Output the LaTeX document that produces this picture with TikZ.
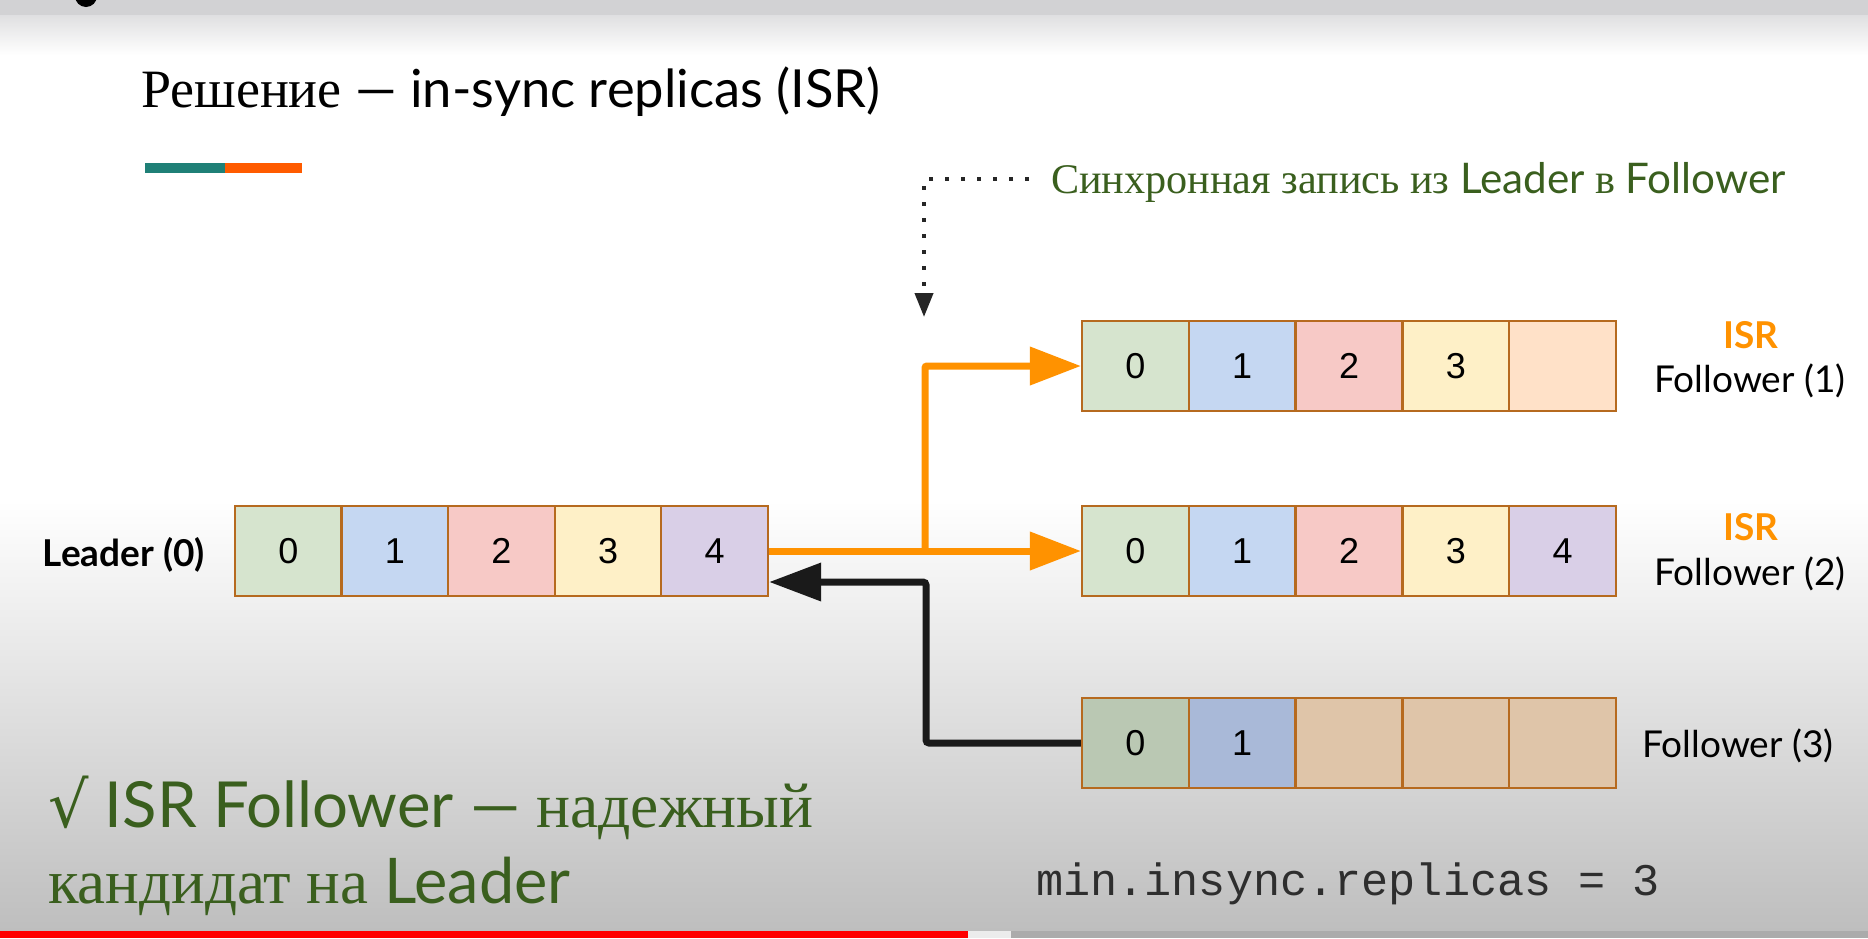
\documentclass[tikz,border=0pt]{standalone}
\usepackage{fontspec}
\setmainfont{Liberation Serif}
\newfontfamily\latoN{Lato}
\newfontfamily\arialN{Liberation Sans}
\newfontfamily\monoN{Liberation Mono}
\newfontfamily\symN{DejaVu Sans}
\usetikzlibrary{arrows.meta}

\definecolor{cellA}{HTML}{D6E4CE}
\definecolor{cellB}{HTML}{C5D7F2}
\definecolor{cellC}{HTML}{F7C9C6}
\definecolor{cellD}{HTML}{FEF0C7}
\definecolor{cellE}{HTML}{D9CFE7}
\definecolor{cellP}{HTML}{FFE1C8}
\definecolor{fadeA}{HTML}{BAC8B3}
\definecolor{fadeB}{HTML}{A9B9D8}
\definecolor{fadeT}{HTML}{DFC5A9}
\definecolor{cellline}{HTML}{B66A1F}
\definecolor{flow}{HTML}{FF9200}
\definecolor{backink}{HTML}{1A1A1A}
\definecolor{note}{HTML}{3A5F1E}
\definecolor{tealbar}{HTML}{1F8077}
\definecolor{orangebar}{HTML}{FF5B00}
\definecolor{band}{HTML}{D2D2D4}
\definecolor{floor}{HTML}{BEBEBE}
\definecolor{codeink}{HTML}{2E2E2E}

\tikzset{
  cell/.style={draw=cellline, line width=2.2pt, minimum width=106.7pt,
    minimum height=90pt, inner sep=0pt, text=black,
    font=\arialN\fontsize{36}{40}\selectfont},
  flowline/.style={draw=flow, line width=7pt, rounded corners=2pt,
    -{Triangle[length=51pt,width=37pt]}},
  backline/.style={draw=backink, line width=7pt, rounded corners=3pt,
    -{Triangle[length=52pt,width=37pt]}},
  syncline/.style={draw=black!85, line width=4pt, dash pattern=on 4pt off 12pt,
    -{Triangle[length=24pt,width=18pt]}},
  rowname/.style={anchor=base, inner sep=0pt, font=\latoN\fontsize{37}{42}\selectfont},
  isrtag/.style={anchor=base, inner sep=0pt, text=flow, font=\latoN\bfseries\fontsize{37}{42}\selectfont},
  plain/.style={anchor=base west, inner sep=0pt}
}

\begin{document}
\begin{tikzpicture}[x=1pt, y=-1pt]
  % page, shaded band at the top and dimmed lower half
  \useasboundingbox (0,0) rectangle (1868,938);
  \begin{scope}
    \clip (0,0) rectangle (1868,938);
    \fill[white] (0,0) rectangle (1868,938);
    \fill[band] (0,0) rectangle (1868,15);
    \shade[top color=band!70, bottom color=white] (0,15) rectangle (1868,55);
    \shade[top color=white, bottom color=floor] (0,500) rectangle (1868,931);
    \fill[black] (86,-4) circle (11);
    % progress bar
    \fill[red] (0,931) rectangle (968,938);
    \fill[white!85!gray] (968,931) rectangle (1011,938);
    \fill[floor!90!black] (1011,931) rectangle (1868,938);
  \end{scope}

  % heading and accent bar
  \node[plain, font=\fontsize{54}{60}\selectfont] (title) at (141,107)
    {Решение {\latoN\fontsize{52.5}{60}\selectfont — in-sync replicas (ISR)}};
  \fill[tealbar] (145,163) rectangle (225,173);
  \fill[orangebar] (225,163) rectangle (302,173);

  % leader log
  \foreach \c/\t [count=\i from 0] in {cellA/0,cellB/1,cellC/2,cellD/3,cellE/4}
    \node[cell, fill=\c] (L\i) at (288.3+106.6*\i, 551) {\t};
  \node[anchor=base east, inner sep=0pt, font=\latoN\bfseries\fontsize{37}{42}\selectfont]
    (leadname) at (205,566) {Leader (0)};

  % follower logs
  \foreach \c/\t [count=\i from 0] in {cellA/0,cellB/1,cellC/2,cellD/3,cellP/{}}
    \node[cell, fill=\c] (A\i) at (1135.4+106.8*\i, 366) {\t};
  \foreach \c/\t [count=\i from 0] in {cellA/0,cellB/1,cellC/2,cellD/3,cellE/4}
    \node[cell, fill=\c] (B\i) at (1135.4+106.8*\i, 551) {\t};
  \foreach \c/\t [count=\i from 0] in {fadeA/0,fadeB/1,fadeT/{},fadeT/{},fadeT/{}}
    \node[cell, fill=\c] (C\i) at (1135.4+106.8*\i, 743) {\t};

  \node[isrtag] (isr1) at (1751,348) {ISR};
  \node[rowname] (f1) at (1750,392) {Follower (1)};
  \node[isrtag] (isr2) at (1751,540) {ISR};
  \node[rowname] (f2) at (1750,585) {Follower (2)};
  \node[rowname] (f3) at (1738,757) {Follower (3)};

  % replication paths
  \coordinate (fork) at (925,551);
  \draw[flowline] (L4.east) -- (B0.west);
  \draw[flowline] (fork) |- (A0.west);
  \coordinate (back) at (926,582);
  \draw[backline] (C0.west) -| (back) -- (back -| L4.east);

  % synchronous write note
  \node[plain, text=note, font=\fontsize{42.2}{48}\selectfont] (note) at (1051,193)
    {Синхронная запись из {\latoN Leader} в {\latoN Follower}};
  \coordinate (noteend) at (924,317);
  \draw[syncline] ([xshift=-22pt]note.west |- 0,179) -| (noteend);

  % conclusion and setting
  \node[plain, text=note, font=\fontsize{63.5}{72}\selectfont] (sum1) at (48,827)
    {{\symN √}{\latoN\ ISR Follower —} надежный};
  \node[plain, text=note, font=\fontsize{63}{72}\selectfont] (sum2) at (48,903)
    {кандидат на {\latoN Leader}};
  \node[plain, text=codeink, font=\monoN\fontsize{45.2}{50}\selectfont] (code) at (1036,895)
    {min.insync.replicas = 3};
\end{tikzpicture}
\end{document}
